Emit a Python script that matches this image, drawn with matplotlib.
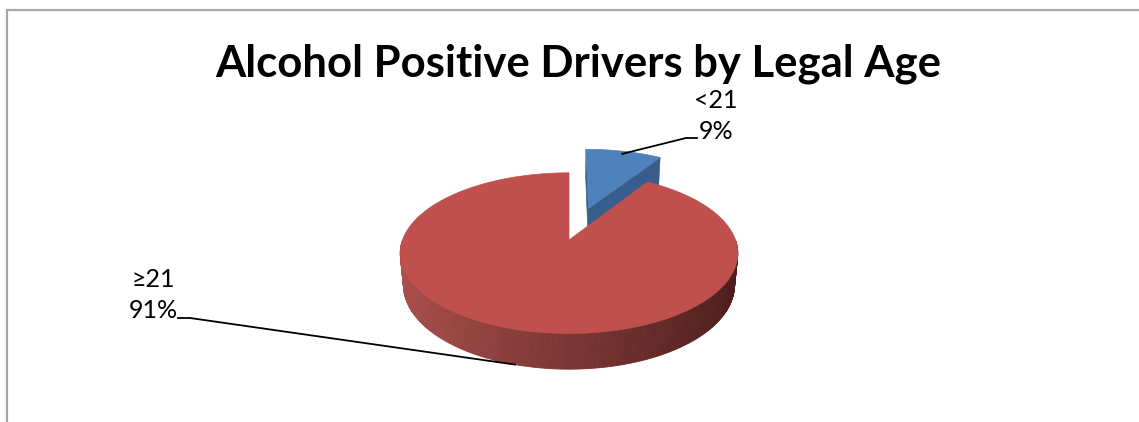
import numpy as np
import matplotlib.pyplot as plt
from matplotlib.patches import Polygon

title = "Alcohol Positive Drivers by Legal Age"
groups = ["<21", "≥21"]
shares = [9, 91]
explode = [0.45, 0.0]
top_colors = ["#4f81bd", "#c0504d"]
side_colors = ["#385d8a", "#8c3836"]

W, H = 1139, 422
fig = plt.figure(figsize=(W / 100, H / 100), dpi=100)
ax = fig.add_axes([0, 0, 1, 1])
ax.set_xlim(0, W)
ax.set_ylim(H, 0)
ax.axis("off")

# frame, open to the right and bottom
ax.plot([7, 7, W + 5], [H + 5, 9.5, 9.5], color="#a6a6a6", lw=1.6,
        solid_joinstyle="miter", clip_on=False)

ax.text(578, 77, title, ha="center", va="baseline", fontsize=31.4,
        fontweight="bold", family="Lato")

# simple perspective camera for the tilted pie
CX, CY = 569, 240
R = 166.5
ELEV = np.radians(28)
DIST = 5.4
THICK = 0.22


def project(x, y, z):
    c, s = np.cos(ELEV), np.sin(ELEV)
    k = DIST / (DIST + y * c - z * s)
    return CX + R * x * k, CY - R * (y * s + z * c) * k


def rim(a0, a1, z, off, n=120):
    th = np.radians(np.linspace(a0, a1, n))
    return project(off[0] + np.sin(th), off[1] + np.cos(th), z + 0 * th)


def shade(x):
    # rim colour darkens from left to right
    t = np.clip((x + 1) / 2, 0, 1)
    left = np.array([172, 80, 76]) / 255
    right = np.array([74, 28, 27]) / 255
    return left * (1 - t) + right * t


fracs = np.array(shares) / sum(shares)
starts = np.concatenate([[0], np.cumsum(fracs)[:-1]]) * 360
ends = starts + fracs * 360
mids = (starts + ends) / 2

offs = []
for m, e in zip(mids, explode):
    offs.append((e * np.sin(np.radians(m)), e * np.cos(np.radians(m))))

# back slice first: radial walls then top
a0, a1, off = starts[0], ends[0], offs[0]
for a in (a0, a1):
    ex, ey = off[0] + np.sin(np.radians(a)), off[1] + np.cos(np.radians(a))
    xs, ys = zip(project(off[0], off[1], 0), project(ex, ey, 0),
                 project(ex, ey, -THICK), project(off[0], off[1], -THICK))
    ax.add_patch(Polygon(np.column_stack([xs, ys]), closed=True,
                         fc=side_colors[0], ec=side_colors[0], lw=0.5))
px, py = rim(a0, a1, 0, off)
cx, cy = project(off[0], off[1], 0)
ax.add_patch(Polygon(np.column_stack([np.r_[cx, px], np.r_[cy, py]]),
                     closed=True, fc=top_colors[0], ec=top_colors[0], lw=0.5))

# large slice: front rim strips with gradient, then top
a0, a1, off = starts[1], ends[1], offs[1]
edge = np.linspace(max(a0, 90), min(a1, 270), 181)
for t0, t1 in zip(edge[:-1], edge[1:]):
    th = np.radians([t0, t1])
    x, y = np.sin(th) + off[0], np.cos(th) + off[1]
    xs, ys = project(np.r_[x, x[::-1]], np.r_[y, y[::-1]],
                     np.r_[0, 0, -THICK, -THICK])
    col = shade(x.mean())
    ax.add_patch(Polygon(np.column_stack([xs, ys]), closed=True,
                         fc=col, ec=col, lw=0.6))
px, py = rim(a0, a1, 0, off, 400)
cx, cy = project(off[0], off[1], 0)
ax.add_patch(Polygon(np.column_stack([np.r_[cx, px], np.r_[cy, py]]),
                     closed=True, fc=top_colors[1], ec=top_colors[1], lw=0.5))

# data labels with leader lines
lab_font = dict(fontsize=18, family="Lato", linespacing=1.45)

m, off = np.radians(mids[0]), offs[0]
sx, sy = project(off[0] + 0.95 * np.sin(m), off[1] + 0.95 * np.cos(m), 0)
ax.plot([sx, 686, 697], [sy, 138, 138], color="black", lw=1.3)
ax.text(716, 116, f"{groups[0]}\n{shares[0]}%", ha="center", va="center",
        **lab_font)

m, off = np.radians(mids[1]), offs[1]
ex, ey = project(off[0] + np.sin(m), off[1] + np.cos(m), -THICK)
ax.plot([178, 190, ex], [318, 318, ey], color="black", lw=1.3)
ax.text(153, 295, f"{groups[1]}\n{shares[1]}%", ha="center", va="center",
        **lab_font)

fig.savefig("out.png", dpi=100)
